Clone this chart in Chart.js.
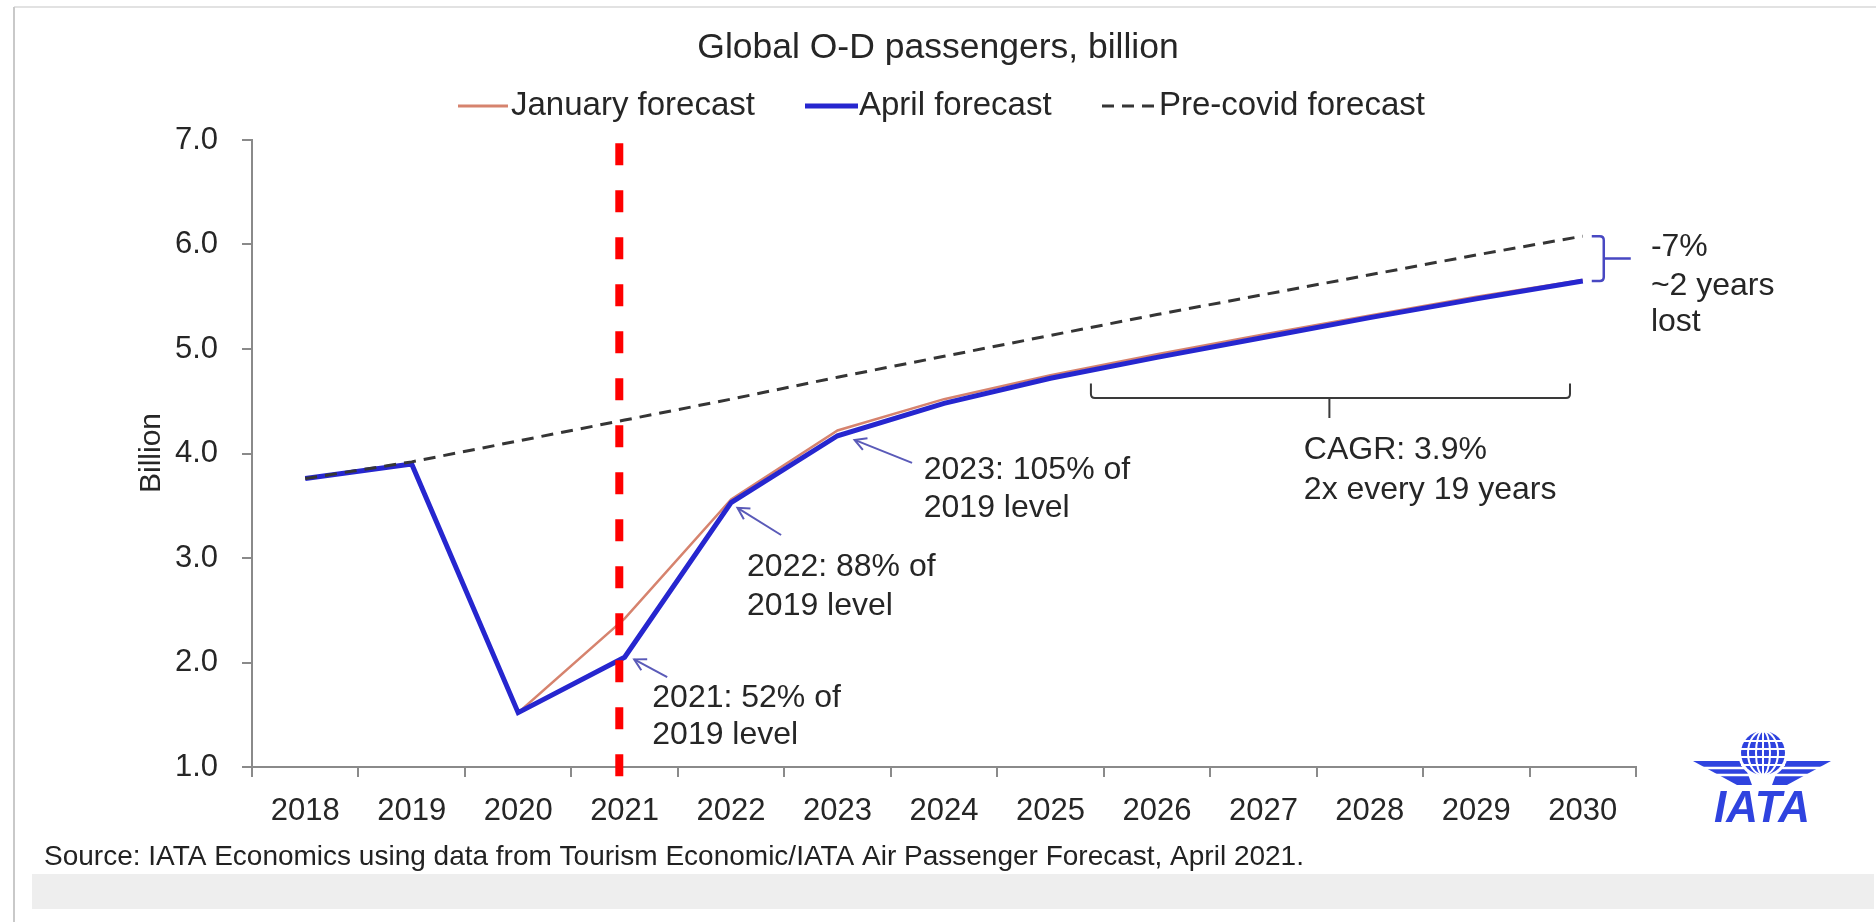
<!DOCTYPE html>
<html><head><meta charset="utf-8">
<script src="https://cdn.jsdelivr.net/npm/chart.js@4.4.1/dist/chart.umd.min.js"></script>
<style>html,body{margin:0;padding:0;background:#fff;overflow:hidden}canvas{display:block}</style>
</head><body>
<canvas id="c" width="1876" height="922"></canvas>
<script>
// ---- data ----
const years = ['2018','2019','2020','2021','2022','2023','2024','2025','2026','2027','2028','2029','2030'];
const januaryForecast = [3.76, 3.90, 1.52, 2.42, 3.56, 4.22, 4.52, 4.75, 4.95, 5.14, 5.32, 5.50, 5.66];
const aprilForecast   = [3.76, 3.90, 1.52, 2.05, 3.53, 4.17, 4.48, 4.72, 4.92, 5.11, 5.30, 5.48, 5.65];
const preCovidForecast= [3.76, 3.92, 4.12, 4.32, 4.52, 4.73, 4.93, 5.13, 5.33, 5.52, 5.71, 5.90, 6.08];
const yMin = 1, yMax = 7, yStep = 1;
const seriesNames = ['January forecast', 'April forecast', 'Pre-covid forecast'];
const titleText = 'Global O-D passengers, billion';
const yTitle = 'Billion';
const sourceText = 'Source: IATA Economics using data from Tourism Economic/IATA Air Passenger Forecast, April 2021.';
const markerYearIndex = 3; // 2021 vertical marker

// annotations in data coordinates (category index, value)
const notes = [
  {lines: ['2021: 52% of', '2019 level'], i: 3.26, v: [1.66, 1.30], head: [3.09, 2.03], tail: [3.40, 1.86]},
  {lines: ['2022: 88% of', '2019 level'], i: 4.15, v: [2.91, 2.54], head: [4.06, 3.48], tail: [4.47, 3.22]},
  {lines: ['2023: 105% of', '2019 level'], i: 5.81, v: [3.84, 3.48], head: [5.16, 4.13], tail: [5.70, 3.91]}
];
const cagrNote = {lines: ['CAGR: 3.9%', '2x every 19 years'], i: 9.38, v: [4.03, 3.65],
  from: 7.38, to: 11.88, level: 4.53, up: 4.67, mid: 9.62, down: 4.34};
const lostNote = {lines: ['-7%', '~2 years', 'lost'], i: 12.64, v: [5.97, 5.60, 5.26]};

const FONT = '"Liberation Sans", Arial, sans-serif';
const TXT = '#262626';
const COL_JAN = '#d6836e', COL_APR = '#2626cf', COL_PRE = '#353535', AX = '#8a8a8a';

const deco = {
  id: 'deco',
  beforeDraw(chart) {
    const ctx = chart.ctx;
    ctx.save();
    ctx.fillStyle = '#fff';
    ctx.fillRect(0, 0, chart.width, chart.height);
    // frame
    ctx.strokeStyle = '#e2e2e2'; ctx.lineWidth = 2;
    ctx.beginPath(); ctx.moveTo(14, 7); ctx.lineTo(1876, 7); ctx.stroke();
    ctx.strokeStyle = '#c9c9c9';
    ctx.beginPath(); ctx.moveTo(14, 7); ctx.lineTo(14, 922); ctx.stroke();
    // bottom band
    ctx.fillStyle = '#eeeeee';
    ctx.fillRect(32, 874, 1842, 35);
    ctx.restore();
  },
  afterDraw(chart) {
    const ctx = chart.ctx, xs = chart.scales.x, ys = chart.scales.y;
    const px = i => xs.getPixelForValue(i), py = v => ys.getPixelForValue(v);
    ctx.save();
    // red vertical marker
    const cw = px(1) - px(0);
    const mx = px(markerYearIndex) - 0.05 * cw;
    ctx.strokeStyle = '#ff0000'; ctx.lineWidth = 8; ctx.setLineDash([22, 25]);
    ctx.beginPath(); ctx.moveTo(mx, py(6.97)); ctx.lineTo(mx, 792); ctx.stroke();
    ctx.setLineDash([]);

    // title
    ctx.fillStyle = TXT; ctx.textBaseline = 'middle';
    ctx.font = '35.5px ' + FONT; ctx.textAlign = 'center';
    ctx.fillText(titleText, 938, 48);

    // legend
    ctx.font = '33px ' + FONT; ctx.textAlign = 'left';
    const ly = 106;
    ctx.lineCap = 'butt';
    ctx.strokeStyle = COL_JAN; ctx.lineWidth = 3;
    ctx.beginPath(); ctx.moveTo(458, ly); ctx.lineTo(508, ly); ctx.stroke();
    ctx.fillText(seriesNames[0], 511, ly);
    ctx.strokeStyle = COL_APR; ctx.lineWidth = 5;
    ctx.beginPath(); ctx.moveTo(805, ly); ctx.lineTo(858, ly); ctx.stroke();
    ctx.fillText(seriesNames[1], 859, ly);
    ctx.strokeStyle = COL_PRE; ctx.lineWidth = 3; ctx.setLineDash([12, 8]);
    ctx.beginPath(); ctx.moveTo(1102, ly); ctx.lineTo(1158, ly); ctx.stroke();
    ctx.setLineDash([]);
    ctx.fillText(seriesNames[2], 1159, ly);

    // y title
    ctx.save();
    ctx.translate(152, 453); ctx.rotate(-Math.PI / 2);
    ctx.textAlign = 'center'; ctx.font = '30px ' + FONT;
    ctx.fillText(yTitle, 0, 0);
    ctx.restore();

    // annotations with arrows
    ctx.font = '32px ' + FONT; ctx.textAlign = 'left';
    for (const n of notes) {
      ctx.fillStyle = TXT;
      n.lines.forEach((t, k) => ctx.fillText(t, px(n.i), py(n.v[k])));
      const hx = px(n.head[0]), hy = py(n.head[1]), tx = px(n.tail[0]), tyy = py(n.tail[1]);
      ctx.strokeStyle = '#5a5ab8'; ctx.lineWidth = 2;
      ctx.beginPath(); ctx.moveTo(tx, tyy); ctx.lineTo(hx, hy); ctx.stroke();
      const a = Math.atan2(tyy - hy, tx - hx), L = 13, sp = 0.5;
      ctx.beginPath();
      ctx.moveTo(hx + L * Math.cos(a - sp), hy + L * Math.sin(a - sp));
      ctx.lineTo(hx, hy);
      ctx.lineTo(hx + L * Math.cos(a + sp), hy + L * Math.sin(a + sp));
      ctx.stroke();
    }

    // CAGR bracket
    const c = cagrNote;
    const bx1 = px(c.from), bx2 = px(c.to), by = py(c.level), bu = py(c.up), bm = px(c.mid), bd = py(c.down);
    ctx.strokeStyle = '#3a3a3a'; ctx.lineWidth = 2;
    ctx.beginPath();
    ctx.moveTo(bx1, bu); ctx.lineTo(bx1, by - 4); ctx.quadraticCurveTo(bx1, by, bx1 + 4, by);
    ctx.lineTo(bx2 - 4, by); ctx.quadraticCurveTo(bx2, by, bx2, by - 4); ctx.lineTo(bx2, bu);
    ctx.moveTo(bm, by); ctx.lineTo(bm, bd);
    ctx.stroke();
    ctx.fillStyle = TXT;
    c.lines.forEach((t, k) => ctx.fillText(t, px(c.i), py(c.v[k])));

    // -7% bracket
    const last = years.length - 1;
    const top = py(preCovidForecast[last]), bot = py(aprilForecast[last]);
    const k0 = px(last) + 9, k1 = px(last) + 21, kn = px(last) + 48, km = (top + bot) / 2;
    ctx.strokeStyle = '#4848c2'; ctx.lineWidth = 2.5;
    ctx.beginPath();
    ctx.moveTo(k0, top); ctx.lineTo(k1 - 4, top); ctx.quadraticCurveTo(k1, top, k1, top + 4);
    ctx.lineTo(k1, bot - 4); ctx.quadraticCurveTo(k1, bot, k1 - 4, bot); ctx.lineTo(k0, bot);
    ctx.moveTo(k1, km); ctx.lineTo(kn, km);
    ctx.stroke();
    ctx.fillStyle = TXT;
    lostNote.lines.forEach((t, k) => ctx.fillText(t, px(lostNote.i), py(lostNote.v[k])));

    // source
    ctx.font = '28px ' + FONT; ctx.fillStyle = '#222';
    ctx.fillText(sourceText, 44, 857);

    // IATA logo
    const blue = '#2f43df';
    const gx = 1763, gy = 753, gr = 22;
    ctx.fillStyle = blue;
    ctx.beginPath();
    ctx.moveTo(1693, 761); ctx.lineTo(1743, 761); ctx.lineTo(1752, 785); ctx.lineTo(1737, 785); ctx.closePath(); ctx.fill();
    ctx.beginPath();
    ctx.moveTo(1831, 761); ctx.lineTo(1781, 761); ctx.lineTo(1772, 785); ctx.lineTo(1787, 785); ctx.closePath(); ctx.fill();
    ctx.strokeStyle = '#fff'; ctx.lineWidth = 2.5;
    for (const yy of [768, 775]) {
      ctx.beginPath(); ctx.moveTo(1680, yy); ctx.lineTo(1846, yy); ctx.stroke();
    }
    ctx.fillStyle = '#fff';
    ctx.beginPath(); ctx.arc(gx, gy, gr + 3, 0, Math.PI * 2); ctx.fill();
    ctx.fillStyle = blue;
    ctx.beginPath(); ctx.arc(gx, gy, gr, 0, Math.PI * 2); ctx.fill();
    ctx.strokeStyle = '#fff'; ctx.lineWidth = 2;
    for (const dy of [-12, -4, 4, 12]) {
      ctx.beginPath(); ctx.moveTo(gx - gr, gy + dy); ctx.lineTo(gx + gr, gy + dy); ctx.stroke();
    }
    for (const rx of [7, 15]) {
      ctx.beginPath(); ctx.ellipse(gx, gy, rx, gr, 0, 0, Math.PI * 2); ctx.stroke();
    }
    ctx.beginPath(); ctx.moveTo(gx, gy - gr); ctx.lineTo(gx, gy + gr); ctx.stroke();
    ctx.fillStyle = blue; ctx.font = 'italic bold 44px ' + FONT; ctx.textAlign = 'center';
    ctx.textBaseline = 'alphabetic';
    ctx.fillText('IATA', 1762, 822);
    ctx.restore();
  }
};

new Chart(document.getElementById('c'), {
  type: 'line',
  data: {
    labels: years,
    datasets: [
      {label: seriesNames[2], data: preCovidForecast, borderColor: COL_PRE, borderWidth: 3, borderDash: [12, 8], pointRadius: 0, tension: 0, order: 0},
      {label: seriesNames[1], data: aprilForecast, borderColor: COL_APR, borderWidth: 5, pointRadius: 0, tension: 0, order: 1, borderJoinStyle: 'miter'},
      {label: seriesNames[0], data: januaryForecast, borderColor: COL_JAN, borderWidth: 2.5, pointRadius: 0, tension: 0, order: 2}
    ]
  },
  options: {
    responsive: false, animation: false, devicePixelRatio: 1,
    layout: {padding: {left: 0, right: 240, top: 140, bottom: 0}},
    plugins: {legend: {display: false}, title: {display: false}, tooltip: {enabled: false}},
    scales: {
      x: {
        offset: true,
        grid: {offset: true, drawOnChartArea: false, tickLength: 10, color: AX, lineWidth: 2},
        border: {color: AX, width: 2},
        ticks: {font: {family: FONT, size: 31}, color: TXT, padding: 16, maxRotation: 0},
        afterFit: s => { s.height = 155; }
      },
      y: {
        min: yMin, max: yMax,
        grid: {drawOnChartArea: false, tickLength: 10, color: AX, lineWidth: 2},
        border: {color: AX, width: 2},
        ticks: {stepSize: yStep, font: {family: FONT, size: 31}, color: TXT, padding: 24,
                callback: v => Number(v).toFixed(1)},
        afterFit: s => { s.width = 252; }
      }
    }
  },
  plugins: [deco]
});
</script>
</body></html>
